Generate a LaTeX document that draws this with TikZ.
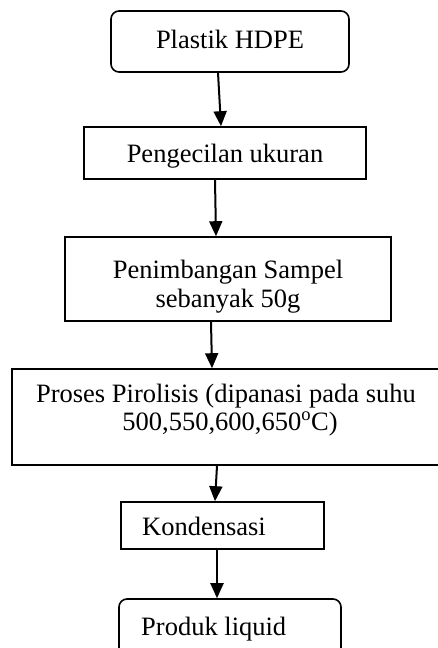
\documentclass[tikz,border=0pt]{standalone}
\usepackage{fontspec}
\setmainfont{Liberation Serif}
\usetikzlibrary{calc,arrows.meta}
\tikzset{
  boxshape/.style={draw=black, line width=1.6pt, inner sep=0pt},
  roundbox/.style={boxshape, rounded corners=8pt},
  txt/.style={inner sep=0pt, font=\fontsize{26.5}{29}\selectfont},
  flow/.style={line width=2pt, -{Triangle[length=15pt,width=13pt]}}
}
\begin{document}
\begin{tikzpicture}[x=1pt,y=-1pt]
\useasboundingbox (0,0) rectangle (437,648);
\node[roundbox, minimum width=238pt, minimum height=61pt] (b1) at (230,41.5) {};
\node[boxshape, minimum width=282pt, minimum height=52pt] (b2) at (225,153) {};
\node[boxshape, minimum width=326pt, minimum height=84pt] (b3) at (228,279) {};
\node[boxshape, minimum width=428pt, minimum height=96pt] (b4) at (226,417) {};
\node[boxshape, minimum width=203pt, minimum height=47pt] (b5) at (222.5,525.5) {};
\node[roundbox, minimum width=222pt, minimum height=58pt] (b6) at (230,628) {};

\node[txt, anchor=base] (t1) at (230,48) {Plastik HDPE};
\node[txt, anchor=base] (t2) at (225,162) {Pengecilan ukuran};
\node[txt, anchor=base] (t3a) at (228,278) {Penimbangan Sampel};
\node[txt, anchor=base] (t3b) at (228,307) {sebanyak 50g};
\node[txt, anchor=base] (t4a) at (226,402) {Proses Pirolisis (dipanasi pada suhu};
\node[txt, anchor=base] (t4b) at (230,430) {500,550,600,650\textsuperscript{o}C)};
\node[txt, anchor=base west] (t5) at (142,535) {Kondensasi};
\node[txt, anchor=base west] (t6) at (141,635) {Produk liquid};

\draw[flow] ($(b1.south)+(-12,0)$) -- ($(b2.north)+(-4,0)$);
\draw[flow] ($(b2.south)+(-10,0)$) -- ($(b3.north)+(-12,0)$);
\draw[flow] ($(b3.south)+(-17,0)$) -- ($(b4.north)+(-14,0)$);
\draw[flow] ($(b4.south)+(-9,0)$) -- ($(b5.north)+(-7.5,0)$);
\draw[flow] ($(b5.south)+(-5.5,0)$) -- ($(b6.north)+(-13,0)$);
\end{tikzpicture}
\end{document}
